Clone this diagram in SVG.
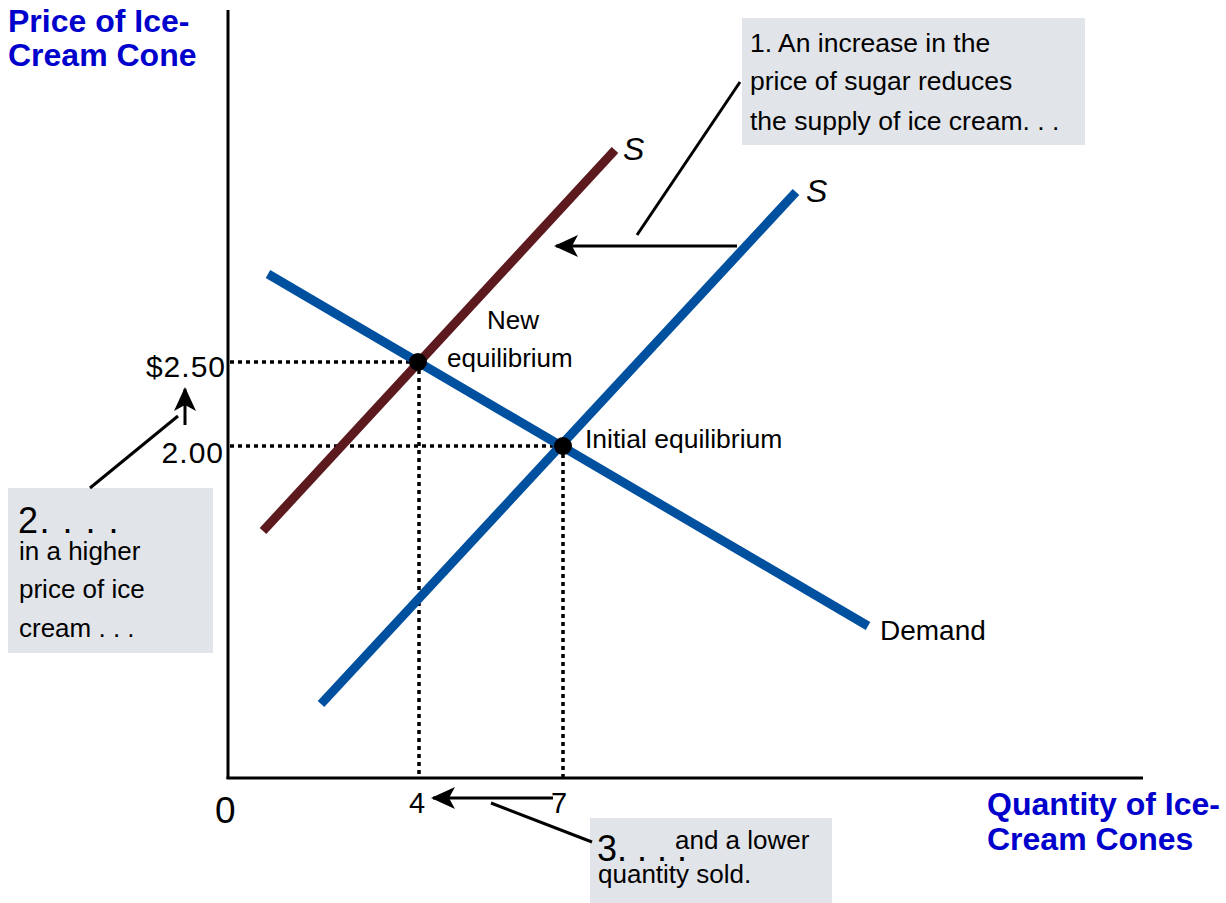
<svg xmlns="http://www.w3.org/2000/svg" width="1226" height="903" viewBox="0 0 1226 903">
<style>
text{font-family:"Liberation Sans",Arial,sans-serif;fill:#000}
.axlbl{font-weight:bold;fill:#0000cc;font-size:32px}
.t26{font-size:26px}
.big{font-size:36px}
.tick{font-size:30px;letter-spacing:1px}
.slbl{font-size:32px;font-style:italic}
.box{fill:#e1e4e9}
.dot{stroke:#000;stroke-width:3.5;stroke-dasharray:4 4;fill:none}
.ptr{stroke:#000;stroke-width:3;fill:none}
.curve{stroke-width:9;fill:none}
</style>
<defs>
<marker id="ah" viewBox="0 0 24 24" refX="22" refY="12" markerWidth="24" markerHeight="24" markerUnits="userSpaceOnUse" orient="auto">
<path d="M0,1 L24,12 L0,23 L6,12 z" fill="#000"/>
</marker>
</defs>
<rect width="1226" height="903" fill="#fff"/>

<g id="axes">
<line x1="228" y1="10" x2="228" y2="779" stroke="#000" stroke-width="3"/>
<line x1="226.5" y1="778" x2="1143" y2="778" stroke="#000" stroke-width="3"/>
<text class="axlbl" x="8" y="32">Price of Ice-</text>
<text class="axlbl" x="8" y="66">Cream Cone</text>
<text class="axlbl" x="987" y="815">Quantity of Ice-</text>
<text class="axlbl" x="987" y="850">Cream Cones</text>
<text x="215" y="823" style="font-size:37px">0</text>
<text class="tick" x="226" y="377" text-anchor="end">$2.50</text>
<text class="tick" x="224" y="463" text-anchor="end">2.00</text>
<text class="t26" x="409" y="813" style="font-size:29px">4</text>
<text class="t26" x="551" y="813" style="font-size:29px">7</text>
</g>

<g id="guides">
<line class="dot" x1="230" y1="362" x2="418" y2="362"/>
<line class="dot" x1="230" y1="446" x2="563" y2="446"/>
<line class="dot" x1="419" y1="362" x2="419" y2="778"/>
<line class="dot" x1="563" y1="446" x2="563" y2="778"/>
</g>

<g id="demand">
<line class="curve" stroke="#0050a0" x1="268" y1="274" x2="868" y2="626"/>
<text x="880" y="640" style="font-size:28px">Demand</text>
</g>
<g id="supply-initial">
<line class="curve" stroke="#0050a0" x1="321" y1="704" x2="796" y2="192"/>
<text class="slbl" x="806" y="202">S</text>
</g>
<g id="supply-new">
<line class="curve" stroke="#5c1a1f" x1="263" y1="531" x2="615" y2="150"/>
<text class="slbl" x="623" y="160">S</text>
</g>

<g id="new-eq">
<circle cx="418" cy="362" r="9" fill="#000"/>
<text class="t26" x="487" y="329">New</text>
<text class="t26" x="447" y="367">equilibrium</text>
</g>
<g id="initial-eq">
<circle cx="563" cy="446" r="9" fill="#000"/>
<text class="t26" x="585" y="448" style="font-size:26.5px">Initial equilibrium</text>
</g>

<g id="note1">
<rect class="box" x="742" y="18" width="343" height="127"/>
<text class="t26" x="750" y="52" style="font-size:26.5px">1. An increase in the</text>
<text class="t26" x="750" y="90" style="font-size:26.5px">price of sugar reduces</text>
<text class="t26" x="750" y="130" style="font-size:26.5px">the supply of ice cream. . .</text>
</g>
<g id="note2">
<rect class="box" x="8" y="488" width="205" height="165"/>
<text class="big" x="18" y="533" style="letter-spacing:1.5px">2. . . .</text>
<text class="t26" x="19" y="560">in a higher</text>
<text class="t26" x="19" y="598">price of ice</text>
<text class="t26" x="19" y="637">cream . . .</text>
</g>
<g id="note3">
<rect class="box" x="590" y="818" width="242" height="85"/>
<text class="big" x="597" y="861">3. . . .</text>
<text class="t26" x="675" y="849">and a lower</text>
<text class="t26" x="598" y="883">quantity sold.</text>
</g>

<g id="connectors">
<line class="ptr" x1="737" y1="246" x2="556" y2="246" marker-end="url(#ah)"/>
<line class="ptr" x1="637" y1="235" x2="740" y2="82"/>
<line class="ptr" x1="185" y1="425" x2="185" y2="389" marker-end="url(#ah)"/>
<line class="ptr" x1="90" y1="488" x2="178" y2="416"/>
<line class="ptr" x1="553" y1="798" x2="433" y2="798" marker-end="url(#ah)"/>
<line class="ptr" x1="491" y1="803" x2="592" y2="842"/>
</g>
</svg>
